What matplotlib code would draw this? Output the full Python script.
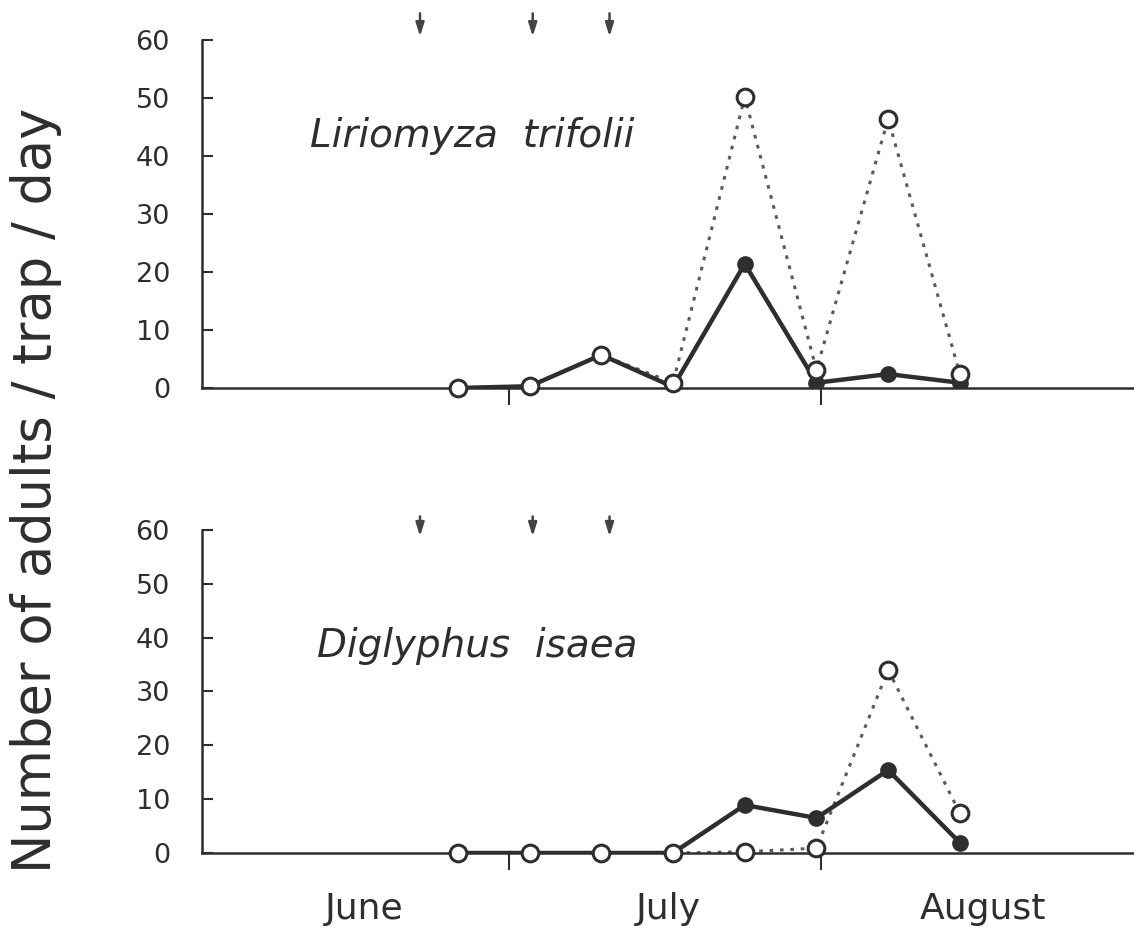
import matplotlib.pyplot as plt
import numpy as np

plt.rcParams['font.family'] = ['DejaVu Sans']

##########################################################
#                 Trap counts per week                   #
##########################################################

# sampling dates as days after 1 June
sample_days = [25, 32, 39, 46, 53, 60, 67, 74]

# Liriomyza trifolii
leafminer_closed = [0, 0.3, 5.7, 0.2, 21.4, 0.9, 2.4, 0.9]
leafminer_open = [0, 0.3, 5.7, 0.9, 50.2, 3.1, 46.4, 2.4]

# Diglyphus isaea
parasitoid_closed = [0, 0, 0, 0, 8.9, 6.5, 15.4, 1.9]
parasitoid_open = [0, 0, 0, 0, 0.2, 0.9, 34.0, 7.4]

# release dates (arrows)
release_days = [21.3, 32.3, 39.8]

month_names = ['June', 'July', 'August']
month_mid = [15.8, 45.5, 76.3]
month_edges = [30, 60.4]

##########################################################
#                        Figure                          #
##########################################################

fig = plt.figure(figsize=(11.34, 9.32), dpi=100)
ax_top = fig.add_axes([0.178, 0.5837, 0.822, 0.3734])
ax_bot = fig.add_axes([0.178, 0.0848, 0.822, 0.3466])

dark = '#2e2e2e'
grey = '#5a5a5a'


def draw_panel(ax, closed, opened, title, title_pos, arrow_lo, arrow_hi):
    # dotted series first so the solid line sits over it where they agree
    ax.plot(sample_days, opened, linestyle=(0, (1.2, 2.2)), color=grey, lw=2.2,
            zorder=2)
    ax.plot(sample_days, closed, '-', color=dark, lw=3.2, marker='o',
            markersize=11, markerfacecolor=dark, markeredgecolor=dark, zorder=3)
    ax.plot(sample_days, opened, 'none', marker='o', markersize=12,
            markerfacecolor='white', markeredgecolor=dark, markeredgewidth=2.2,
            zorder=4, clip_on=False)

    ax.set_xlim(0, 91)
    ax.set_ylim(0, 60)

    for s in ['top', 'right']:
        ax.spines[s].set_visible(False)
    for s in ['left', 'bottom']:
        ax.spines[s].set_linewidth(1.8)
        ax.spines[s].set_color(dark)

    ax.set_yticks(np.arange(0, 61, 10))
    ax.tick_params(axis='y', direction='in', length=8, width=1.5, colors=dark,
                   labelsize=19.5, pad=23)
    ax.set_xticks(month_edges)
    ax.set_xticklabels([])
    ax.tick_params(axis='x', which='major', direction='out', length=12,
                   width=1.5, colors=dark)

    ax.text(title_pos[0], title_pos[1], title, fontsize=28, style='italic',
            color=dark, va='baseline')

    # release arrows above the plotting area
    for d in release_days:
        ax.annotate('', xy=(d, arrow_lo), xytext=(d, arrow_hi),
                    arrowprops=dict(arrowstyle='-|>,head_length=0.8,head_width=0.25',
                                    lw=1.8, color='#444444', mutation_scale=10,
                                    shrinkA=0, shrinkB=0),
                    annotation_clip=False)


draw_panel(ax_top, leafminer_closed, leafminer_open,
           'Liriomyza  trifolii', (10.6, 41.5), 60.6, 64.6)
draw_panel(ax_bot, parasitoid_closed, parasitoid_open,
           'Diglyphus  isaea', (11.2, 36.4), 58.8, 62.5)

# month names sit between the month ticks
ax_bot.set_xticks(month_mid, minor=True)
ax_bot.set_xticklabels(month_names, minor=True)
ax_bot.tick_params(axis='x', which='minor', length=0, labelsize=26,
                   labelcolor=dark, pad=28)

fig.text(0.032, 0.474, 'Number of adults / trap / day', rotation=90,
         ha='center', va='center', fontsize=38, color=dark)

plt.savefig('out.png', dpi=100)
